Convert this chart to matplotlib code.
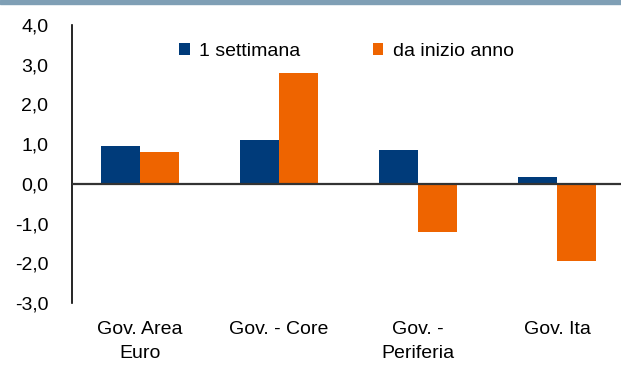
import matplotlib.pyplot as plt
import numpy as np
from matplotlib.patches import Rectangle

plt.rcParams['font.family'] = ['Liberation Sans', 'DejaVu Sans']

categories = ["Gov. Area\nEuro", "Gov. - Core", "Gov. -\nPeriferia", "Gov. Ita"]
settimana = [0.95, 1.10, 0.85, 0.18]
inizio_anno = [0.80, 2.80, -1.22, -1.93]

blue = "#003b7a"
orange = "#ee6400"

fig = plt.figure(figsize=(6.21, 3.65), dpi=100)
ax = fig.add_axes([72 / 621, 1 - 303 / 365, (621 - 72) / 621, (303 - 25) / 365])

# strip of the cut-off header band
fig.patches.append(Rectangle((0, 1 - 4 / 365), 1, 4 / 365, transform=fig.transFigure,
                             color="#7f9fb5", zorder=0))

x = np.arange(len(categories))
w = 0.28
ax.bar(x - w / 2, settimana, w, color=blue, label="1 settimana")
ax.bar(x + w / 2, inizio_anno, w, color=orange, label="da inizio anno")

ax.set_ylim(-3, 4)
ax.set_xlim(-0.49, 3.46)
ax.set_yticks(np.arange(-3, 5, 1))
ax.set_yticklabels([f"{v:.1f}".replace(".", ",") for v in np.arange(-3, 5, 1)])
ax.tick_params(axis='y', length=0, labelsize=14, pad=17)
ax.set_xticks(x)
ax.set_xticklabels(categories, linespacing=1.5)
ax.tick_params(axis='x', length=0, labelsize=14, pad=13)

for s in ["top", "right", "bottom"]:
    ax.spines[s].set_visible(False)
ax.spines["left"].set_color("black")
ax.spines["left"].set_linewidth(1.2)
ax.axhline(0, color="#333333", linewidth=1.6, zorder=3)

ax.legend(loc="upper left", bbox_to_anchor=(0.195, 0.935), ncol=2, frameon=False,
          fontsize=14, handlelength=0.55, handleheight=0.55, columnspacing=3.7,
          handletextpad=0.5, borderpad=0, borderaxespad=0)

fig.savefig("out.png", dpi=100)
